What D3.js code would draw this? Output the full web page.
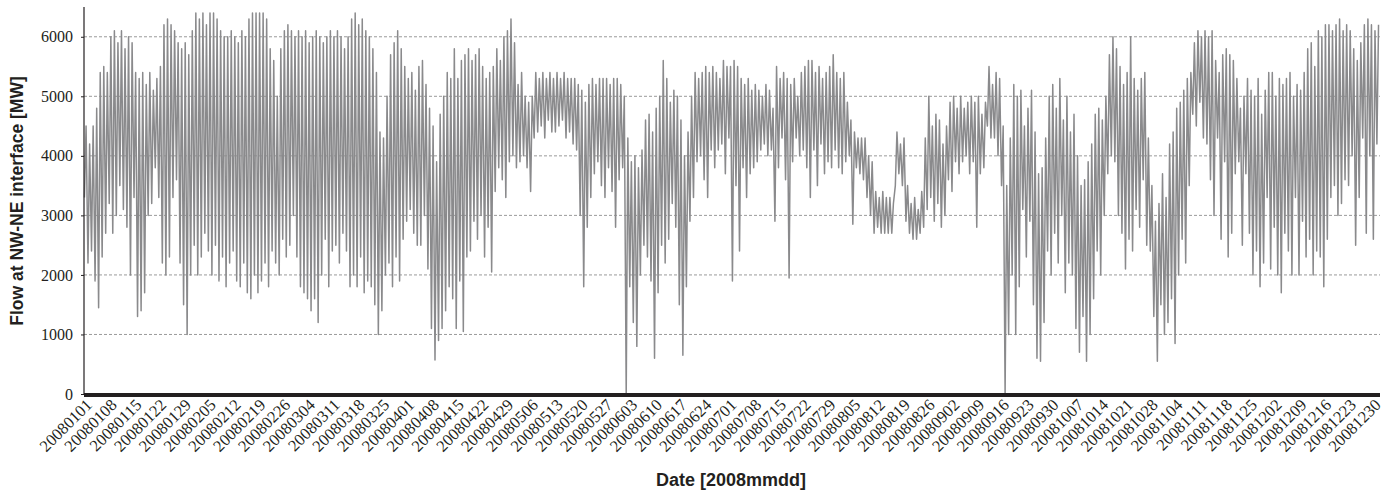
<!DOCTYPE html>
<html><head><meta charset="utf-8">
<script src="https://cdn.jsdelivr.net/npm/d3@7"></script>
<style>body{margin:0;background:#fff}svg{display:block}</style>
</head><body>
<svg id="c" width="1397" height="491"></svg>
<script>
const startDate = "20080101";
const endDate = "20090101";
// daily peak (daytime) flow, MW, one value per day of 2008
const dailyHigh = [
4500,4200,4500,4800,5400,5500,5400,6000,6100,5900,
6100,5800,6000,5900,5400,5300,5400,5200,5400,5100,
5300,5500,6200,6300,6200,6100,5900,5800,5900,5700,
6100,6400,6300,6400,6200,6400,6400,6300,6100,6000,
6000,6100,6000,5900,6100,6000,6300,6400,6400,6400,
6400,6300,5800,5600,5000,5800,6100,6200,6100,6000,
6100,6000,6100,5900,6000,6100,6000,5900,6000,6100,
6000,6100,6000,5800,6000,6300,6400,6200,6300,6100,
6000,5800,5400,4400,4300,5000,5700,5900,6100,5800,
5500,5300,5400,5100,5500,5600,5200,4800,4500,3900,
4700,5000,5400,5300,5800,5300,5600,5700,5800,5600,
5700,5800,5500,5300,5400,5500,5800,5600,6000,6100,
6300,5900,5200,5400,5000,4900,5000,5400,5300,5400,
5300,5400,5300,5400,5300,5400,5300,5300,5300,5200,
5100,4900,5200,5300,5200,5300,5300,5300,5200,5300,
5300,5200,5000,4300,3900,4000,3800,4100,4600,4700,
4400,4800,5000,5600,5300,4900,5100,5000,4600,4000,
4400,5000,5400,5300,5400,5500,5400,5500,5400,5300,
5600,5500,5500,5600,5500,5300,5200,5300,5100,5200,
5100,5000,5200,5100,4800,5500,5300,5400,5300,5200,
5300,5000,5400,5500,5600,5600,5400,5500,5300,5400,
5500,5700,5400,5300,5400,4900,4600,4400,4300,4300,
4300,4000,3900,3400,3300,3400,3300,3300,3200,4400,
4200,4300,3500,3200,3300,3100,3400,4300,5000,4500,
4700,4600,4200,4500,4900,5000,4800,5000,4800,4900,
5000,4900,5000,4700,4900,5500,5200,5400,5300,4500,
3500,4300,5200,5000,5100,4500,4800,5100,4400,3700,
3800,4300,5000,5200,4800,5300,4600,5000,4400,4700,
4000,3500,3600,3900,4200,4700,4800,4600,5000,5700,
6000,5800,5500,5200,5400,6000,5300,5100,5300,5400,
4300,3500,2900,3200,3700,3300,4200,4400,4800,4900,
5100,5300,5400,5900,6100,6000,6100,6000,6100,5600,
5400,5700,5800,5700,5600,5300,4800,5000,5300,5100,
5000,5300,4700,5100,5400,5400,5000,5300,5200,5300,
5400,5000,5200,5100,5400,5800,5900,5500,6100,6000,
6200,6200,6100,6200,6300,6100,6200,6100,5800,5600,
5900,6200,6300,6200,6100,6200
];
// daily minimum (night) flow, MW
const dailyLow = [
3300,2200,2400,1900,1450,2300,2700,3200,2700,3000,
3500,3100,2800,2000,3300,1300,1400,1700,3000,3200,
3800,3300,2200,2000,2300,3300,3600,2200,1500,1000,
2000,2500,2000,2300,2700,2400,2000,2500,1900,2300,
1800,2200,2400,1900,1800,2200,1700,1600,2000,1700,
1900,2200,1800,2400,2200,2000,2600,2300,2500,3000,
2300,1800,1700,1600,1400,1600,1200,2000,2600,1800,
2400,2500,2200,2700,2400,1800,2000,1800,2300,1700,
1900,1800,1500,1000,1400,2000,2200,1800,2300,1900,
2600,2900,3100,2700,2500,2500,3000,2100,1100,570,
900,1100,1400,1800,1600,1100,1900,1050,2300,2400,
2900,2600,3000,2300,2800,2050,3400,3800,3600,3300,
3900,4000,3800,3900,4000,3800,3400,4300,4400,4500,
4300,4600,4400,4400,4500,4600,4300,4400,4200,4100,
3000,1800,2800,3300,3700,3900,3500,3300,3800,3400,
2800,3600,3800,0,1800,1200,800,2000,2500,2300,
1900,600,1700,2500,2200,2600,3200,2800,1500,650,
1800,2900,3300,3900,4000,3600,3300,4100,3800,4100,
4200,3700,4300,1900,3500,2400,3800,3300,3700,3800,
3900,4100,4200,4000,4100,2900,3800,4300,3600,1950,
3900,4300,4000,4100,3800,3300,4100,3500,4200,3700,
3900,3800,4100,3800,3700,3900,4000,2850,3800,3700,
3600,3300,3000,2700,2800,2700,2700,2700,2700,3500,
3700,3500,2900,2700,2600,2600,2700,2800,3100,3300,
2900,3200,2800,3000,3600,3400,3900,3700,3900,4000,
3700,3900,2800,3700,3800,4500,4300,4300,4000,3500,
0,1000,2000,1000,1800,3100,2300,2900,1500,600,
550,1200,2400,2000,2700,2200,3000,1700,2200,2000,
1100,700,1300,550,1000,1600,2400,2000,3000,3700,
4000,3900,3000,2700,2100,2600,2400,3100,2800,3600,
2500,2400,1300,550,1500,1000,1200,1600,850,2000,
2600,2200,3500,4700,4500,4900,4300,4200,3600,3000,
4300,2600,3900,2300,2700,3700,3900,2500,3700,2700,
2000,2400,1800,2200,3300,2100,2800,2000,1700,2700,
2400,2000,3300,2000,2900,2300,2600,2000,2400,2300,
1800,2600,3300,3500,3000,3200,3600,3500,4000,2500,
3300,4300,2700,4000,2600,4200
];
const yTicks = [0,1000,2000,3000,4000,5000,6000];
const xTickLabels = ["20080101","20080108","20080115","20080122","20080129","20080205","20080212","20080219","20080226","20080304","20080311","20080318","20080325","20080401","20080408","20080415","20080422","20080429","20080506","20080513","20080520","20080527","20080603","20080610","20080617","20080624","20080701","20080708","20080715","20080722","20080729","20080805","20080812","20080819","20080826","20080902","20080909","20080916","20080923","20080930","20081007","20081014","20081021","20081028","20081104","20081111","20081118","20081125","20081202","20081209","20081216","20081223","20081230"];
const yTitle = "Flow at NW-NE interface [MW]";
const xTitle = "Date [2008mmdd]";

const parse = d3.utcParse("%Y%m%d");
const svg = d3.select("#c");
const L = 84, R = 1380, T = 7, B = 394;
const serif = "'Liberation Serif','Times New Roman',serif";
const sans = "'Liberation Sans',Arial,sans-serif";
const x = d3.scaleUtc().domain([parse(startDate), parse(endDate)]).range([L, R]);
const y = d3.scaleLinear().domain([0, 6500]).range([B, T]);

// build series (night low then daytime high for each day)
const pts = [];
const s0 = parse(startDate);
dailyHigh.forEach((h, i) => {
  const day = d3.utcDay.offset(s0, i);
  pts.push({t: d3.utcHour.offset(day, 3), v: dailyLow[i]});
  pts.push({t: d3.utcHour.offset(day, 14), v: h});
});

// gridlines
svg.append("g").selectAll("line").data(yTicks.filter(d => d > 0)).join("line")
  .attr("x1", L).attr("x2", R).attr("y1", d => y(d)).attr("y2", d => y(d))
  .attr("stroke", "#9a9a9a").attr("stroke-width", 1).attr("stroke-dasharray", "3,2");

// series line
svg.append("path").datum(pts)
  .attr("d", d3.line().x(d => x(d.t)).y(d => y(d.v)))
  .attr("fill", "none").attr("stroke", "#8a8a8c").attr("stroke-width", 1.5)
  .attr("stroke-linejoin", "round");

// y axis
const ya = svg.append("g").attr("transform", `translate(${L},0)`)
  .attr("font-family", serif)
  .call(d3.axisLeft(y).tickValues(yTicks).tickSize(3).tickPadding(8).tickFormat(d3.format("d")));
ya.select(".domain").remove();
ya.selectAll(".tick line").attr("stroke", "#231f20");
ya.selectAll("text").style("font-family", serif).style("font-size", "16px").attr("fill", "#231f20");
svg.append("line").attr("x1", L).attr("x2", L).attr("y1", T).attr("y2", B).attr("stroke", "#231f20").attr("stroke-width", 1.2);

// x axis bar
svg.append("rect").attr("x", L).attr("y", B - 1).attr("width", R - L).attr("height", 4).attr("fill", "#231f20");

// x tick labels
svg.append("g").selectAll("text").data(xTickLabels).join("text")
  .attr("transform", d => `translate(${x(parse(d)) + 9},406) rotate(-45)`)
  .attr("text-anchor", "end")
  .style("font-family", serif).style("font-size", "16.5px").attr("fill", "#231f20")
  .text(d => d);

// titles
svg.append("text").attr("transform", "translate(23,201) rotate(-90)").attr("text-anchor", "middle")
  .style("font-family", sans).style("font-weight", "bold").style("font-size", "17.5px").attr("fill", "#231f20")
  .text(yTitle);
svg.append("text").attr("x", 731).attr("y", 486).attr("text-anchor", "middle")
  .style("font-family", sans).style("font-weight", "bold").style("font-size", "18px").attr("fill", "#231f20")
  .text(xTitle);
</script>
</body></html>
